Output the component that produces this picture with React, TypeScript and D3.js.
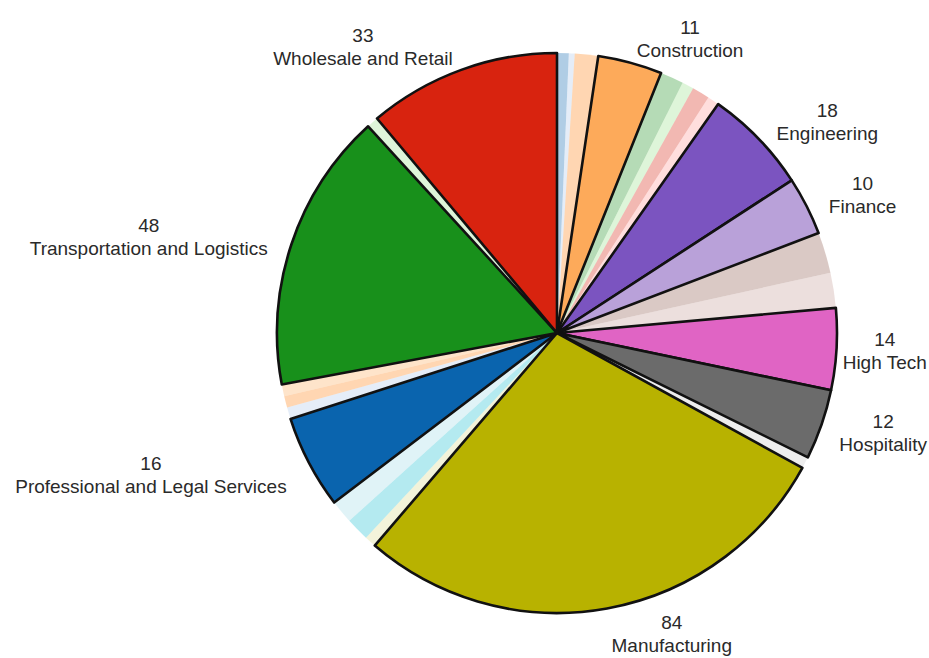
import React from 'react';
import * as d3 from 'd3';

// ---- data (clockwise from 12 o'clock) ----
const industries = [
  'Other 1', 'Other 2', 'Other 3', 'Construction', 'Other 4', 'Other 5', 'Other 6', 'Other 7',
  'Engineering', 'Finance', 'Other 8', 'Other 9', 'High Tech', 'Other 10', 'Hospitality', 'Other 11',
  'Manufacturing', 'Other 12', 'Other 13', 'Other 14', 'Professional and Legal Services', 'Other 15',
  'Other 16', 'Other 17', 'Transportation and Logistics', 'Other 18', 'Wholesale and Retail',
];
const counts = [
  2, 1, 4, 11, 4, 2, 3, 2,
  18, 10, 7, 6, 14, 0, 12, 2,
  84, 2, 4, 4, 16, 2,
  2, 2, 48, 2, 33,
];
const featured = [
  'Construction', 'Engineering', 'Finance', 'High Tech', 'Hospitality',
  'Manufacturing', 'Professional and Legal Services', 'Transportation and Logistics', 'Wholesale and Retail',
];

// category20-like palette (as it appears in the picture)
const palette = [
  '#0a64ae', '#aec7e8', '#ff7f0e', '#fdaa5a', '#18901b', '#98df8a', '#d8230f', '#ff9896',
  '#7b54c0', '#b9a1d9', '#8c564b', '#c49c94', '#e064c4', '#f7b6d2', '#6b6b6b', '#c7c7c7',
  '#b8b200', '#dbdb8d', '#17becf', '#9edae5',
];

const W = 929;
const H = 658;
const CX = 557;
const CY = 333;
const R = 280;
const LABEL_R = 305;
const FONT = "19px 'Liberation Sans', Arial, sans-serif";

type Row = { name: string; value: number; idx: number };

let ctx: CanvasRenderingContext2D | null = null;
function measure(t: string): number {
  if (!ctx) {
    const c = document.createElement('canvas');
    ctx = c.getContext('2d');
  }
  if (!ctx) return t.length * 9.5;
  ctx.font = FONT;
  return ctx.measureText(t).width;
}

export default function App() {
  const rows: Row[] = industries.map((name, i) => ({ name, value: counts[i], idx: i }));
  const pie = d3.pie<Row>().sort(null).value((d) => d.value).startAngle(0).endAngle(2 * Math.PI);
  const arcs = pie(rows);
  const arc = d3.arc<d3.PieArcDatum<Row>>().innerRadius(0).outerRadius(R);
  const isFeatured = (d: d3.PieArcDatum<Row>) => featured.includes(d.data.name);

  const pale = arcs.filter((d) => !isFeatured(d) && d.value > 0);
  const strong = arcs.filter((d) => isFeatured(d));

  const labels = strong.map((d) => {
    const mid = (d.startAngle + d.endAngle) / 2;
    const px = CX + LABEL_R * Math.sin(mid);
    const py = CY - LABEL_R * Math.cos(mid);
    const num = String(d.data.value);
    const w = Math.max(measure(num), measure(d.data.name));
    const right = mid < Math.PI;
    let bx = right ? px + w / 2 : px - w / 2;
    bx = Math.max(w / 2 + 2, Math.min(W - w / 2 - 2, bx));
    return { key: d.data.name, num, name: d.data.name, x: bx, y: py };
  });

  return (
    <svg
      width={W}
      height={H}
      style={{ position: 'absolute', left: 0, top: 0, background: '#fff' }}
      fontFamily="'Liberation Sans', Arial, sans-serif"
    >
      <g transform={`translate(${CX},${CY})`}>
        {pale.map((d) => (
          <path key={d.data.name} d={arc(d) || ''} fill={palette[d.data.idx % 20]} fillOpacity={0.32} />
        ))}
        {strong.map((d) => (
          <path
            key={d.data.name}
            d={arc(d) || ''}
            fill={palette[d.data.idx % 20]}
            stroke="#111"
            strokeWidth={2.6}
            strokeLinejoin="round"
          />
        ))}
      </g>
      {labels.map((l) => (
        <g key={l.key} fill="#2a2a2a" fontSize={19} textAnchor="middle">
          <text x={l.x} y={l.y - 4.5}>{l.num}</text>
          <text x={l.x} y={l.y + 18.5}>{l.name}</text>
        </g>
      ))}
    </svg>
  );
}
